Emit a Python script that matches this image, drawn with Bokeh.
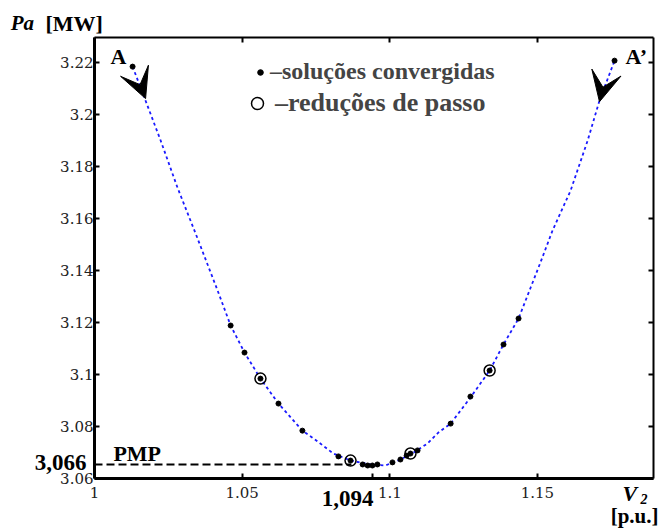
from bokeh.plotting import figure
from bokeh.models import (Range1d, FixedTicker, LinearAxis, Label, Arrow, VeeHead,
                          Legend, LegendItem)
from bokeh.embed import file_html
from bokeh.resources import INLINE

# ---------------- data ----------------
curve_v = [1.0129, 1.0173, 1.0224, 1.0281, 1.0345, 1.0417, 1.0461, 1.0508, 1.0562,
           1.0623, 1.0704, 1.0742, 1.0809, 1.0867, 1.0935, 1.0985, 1.1036, 1.1081,
           1.1128, 1.1165, 1.1206, 1.1273, 1.1338, 1.1385, 1.1436, 1.1477, 1.1510,
           1.1551, 1.1612, 1.1670, 1.1710, 1.1761]
curve_p = [3.2183, 3.2052, 3.1899, 3.1718, 3.1534, 3.1322, 3.1188, 3.1084, 3.0984,
           3.0888, 3.0784, 3.0754, 3.0696, 3.0669, 3.0654, 3.0650, 3.0673, 3.0700,
           3.0735, 3.0777, 3.0811, 3.0911, 3.1015, 3.1115, 3.1215, 3.1334, 3.1430,
           3.1553, 3.1706, 3.1899, 3.2052, 3.2206]

conv_v = [1.0129, 1.0461, 1.0508, 1.0562, 1.0623, 1.0704, 1.0826, 1.0867, 1.0908,
          1.0925, 1.0941, 1.0958, 1.1009, 1.1036, 1.1057, 1.1070, 1.1094, 1.1206,
          1.1273, 1.1338, 1.1385, 1.1436, 1.1761]
conv_p = [3.2183, 3.1188, 3.1084, 3.0984, 3.0888, 3.0784, 3.0685, 3.0669, 3.0654,
          3.0650, 3.0650, 3.0654, 3.0662, 3.0673, 3.0688, 3.0696, 3.0708, 3.0811,
          3.0915, 3.1015, 3.1115, 3.1215, 3.2206]

step_v = [1.0562, 1.0867, 1.1070, 1.1338]
step_p = [3.0984, 3.0669, 3.0696, 3.1015]

pmp_line_v = [1.0, 1.0870]
pmp_p = 3.0654

v_lo, v_hi = 1.0, 1.1893          # axis box
p_lo, p_hi = 3.06, 3.2295
x_ticks = [1.0, 1.05, 1.094, 1.1, 1.15]
x_tick_labels = ["1", "1.05", "", "1.1", "1.15"]
y_ticks = [3.06, 3.08, 3.10, 3.12, 3.14, 3.16, 3.18, 3.20, 3.22]
y_tick_labels = ["3.06", "3.08", "3.1", "3.12", "3.14", "3.16", "3.18", "3.2", "3.22"]

SERIF = "Liberation Serif"
TICKFONT = "DejaVu Serif"

# ---------------- figure ----------------
# the frame spans the whole canvas; the axis box is drawn by fixed-location axes
p = figure(width=663, height=530, output_backend="svg", toolbar_location=None,
           x_range=Range1d(0.96817, 1.19268), y_range=Range1d(3.04002, 3.24371),
           min_border=0, min_border_left=0, min_border_right=0, min_border_top=0,
           min_border_bottom=0)
p.grid.visible = False
p.outline_line_color = None
p.background_fill_color = "white"
p.border_fill_color = "white"

xa = p.xaxis[0]
xa.ticker = FixedTicker(ticks=x_ticks)
xa.major_label_overrides = dict(zip(x_ticks, x_tick_labels))
xa.fixed_location = p_lo
xa.bounds = (v_lo, v_hi)
ya = p.yaxis[0]
ya.ticker = FixedTicker(ticks=y_ticks)
ya.major_label_overrides = dict(zip(y_ticks, y_tick_labels))
ya.fixed_location = v_lo
ya.bounds = (p_lo, p_hi)
for ax in (xa, ya):
    ax.axis_line_width = 3
    ax.axis_line_color = "black"
    ax.major_tick_in = 5
    ax.major_tick_out = 0
    ax.major_tick_line_width = 2
    ax.minor_tick_line_color = None
    ax.major_label_text_font = TICKFONT
    ax.major_label_text_font_size = "15px"
    ax.major_label_text_color = "#222222"
xa.major_label_standoff = 8
ya.major_label_standoff = 1

for loc, tk, fl, bd in (("right", y_ticks, v_hi, (p_lo, p_hi)),
                        ("above", x_ticks[:2] + x_ticks[3:], p_hi, (v_lo, v_hi))):
    ax = LinearAxis(ticker=FixedTicker(ticks=tk), major_tick_in=5, major_tick_out=0,
                    major_tick_line_width=2, minor_tick_line_color=None,
                    axis_line_color="black", axis_line_width=2,
                    major_label_standoff=0, fixed_location=fl, bounds=bd,
                    major_label_overrides={t: "" for t in tk})
    p.add_layout(ax, loc)

# curve
p.line(curve_v, curve_p, line_color="#1a1aff", line_width=1.8, line_dash="3 3")
# PMP dashed line
p.line(pmp_line_v, [pmp_p, pmp_p], line_color="black", line_width=2, line_dash="8 4")

dots = p.scatter(conv_v, conv_p, marker="circle", size=5, fill_color="black",
                 line_color="black")
circs = p.scatter(step_v, step_p, marker="circle", size=11, fill_alpha=0,
                  line_color="black", line_width=1.5)

# legends
leg1 = Legend(items=[LegendItem(label="\u2013solu\u00e7\u00f5es convergidas", renderers=[dots])],
              location=(253, 445), glyph_width=14, glyph_height=14, label_standoff=3,
              padding=0, margin=0, border_line_alpha=0, background_fill_alpha=0,
              label_text_font=SERIF, label_text_font_style="bold",
              label_text_font_size="24px")
leg2 = Legend(items=[LegendItem(label="\u2013redu\u00e7\u00f5es de passo", renderers=[circs])],
              location=(242, 412), glyph_width=30, glyph_height=30, label_standoff=3,
              padding=0, margin=0, border_line_alpha=0, background_fill_alpha=0,
              label_text_font=SERIF, label_text_font_style="bold",
              label_text_font_size="26px")
p.add_layout(leg1)
p.add_layout(leg2)

# arrows
p.add_layout(Arrow(x_start=1.0146, y_start=3.2137, x_end=1.0173, y_end=3.2060,
                   line_alpha=0,
                   end=VeeHead(size=30, fill_color="black", line_color="black")))
p.add_layout(Arrow(x_start=1.1727, y_start=3.2129, x_end=1.1710, y_end=3.2048,
                   line_alpha=0,
                   end=VeeHead(size=30, fill_color="black", line_color="black")))


def lab(x, y, text, size="22px", style="bold", align="left"):
    p.add_layout(Label(x=x, y=y, text=text, text_font=SERIF, text_font_size=size,
                       text_font_style=style, text_align=align,
                       text_baseline="alphabetic", text_color="black"))


lab(0.9716, 3.2350, "Pa", "21px", "bold italic")
lab(0.9834, 3.2350, "[MW]", "22px")
lab(1.0054, 3.2220, "A")
lab(1.1798, 3.2220, "A\u2019")
lab(1.0064, 3.0695, "PMP")
lab(0.9973, 3.0663, "3,066", "23px", align="right")
lab(1.0945, 3.0525, "1,094", "23px", align="right")
lab(1.1788, 3.0543, "V", "22px", "bold italic")
lab(1.1849, 3.0521, "2", "14px", "bold italic")
lab(1.1910, 3.0455, "[p.u.]", "21px", align="right")

open("out.html", "w").write(file_html(p, INLINE))
